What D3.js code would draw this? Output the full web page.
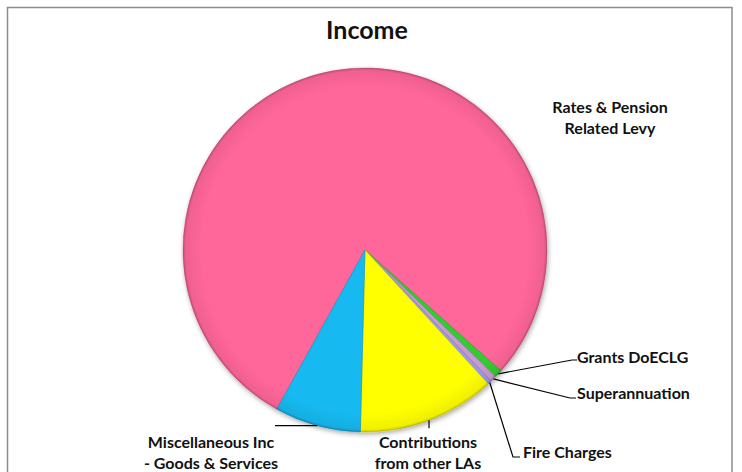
<!DOCTYPE html>
<html>
<head>
<meta charset="utf-8">
<script src="https://cdn.jsdelivr.net/npm/d3@7"></script>
<style>
  html, body { margin: 0; padding: 0; background: #fff; }
  svg { display: block; }
  text { font-family: Lato, "Open Sans", sans-serif; font-weight: bold; fill: #111; }
</style>
</head>
<body>
<svg id="chart" width="742" height="472"></svg>
<script>
const categories = ["Rates & Pension Related Levy", "Grants DoECLG", "Superannuation", "Fire Charges", "Contributions from other LAs", "Miscellaneous Inc - Goods & Services"];
const values = [78.5, 0.7, 0.55, 0.35, 12.25, 7.65];
const colors = ["#FF6699", "#33CC33", "#CC99CC", "#9999EE", "#FFFF00", "#17B9F0"];
const labelLines = [["Rates & Pension", "Related Levy"], ["Grants DoECLG"], ["Superannuation"], ["Fire Charges"], ["Contributions", "from other LAs"], ["Miscellaneous Inc", "- Goods & Services"]];
const title = "Income";

const svg = d3.select("#chart");

// border
svg.append("rect").attr("x", 7.5).attr("y", 7.5).attr("width", 724.5).attr("height", 480)
  .attr("fill", "#fff").attr("stroke", "#8c8c8c").attr("stroke-width", 1.5);

svg.append("text").attr("x", 367).attr("y", 39).attr("text-anchor", "middle")
  .style("font-size", "25px").text(title);

const cx = 365, cy = 250, R = 182;
const defs = svg.append("defs");
const f = defs.append("filter").attr("id", "shadow").attr("x", "-20%").attr("y", "-20%").attr("width", "140%").attr("height", "140%");
f.append("feGaussianBlur").attr("in", "SourceAlpha").attr("stdDeviation", 2.5).attr("result", "b");
f.append("feOffset").attr("in", "b").attr("dx", 1).attr("dy", 2).attr("result", "o");
f.append("feComponentTransfer").attr("in", "o").attr("result", "o2")
  .append("feFuncA").attr("type", "linear").attr("slope", 0.35);
const fm = f.append("feMerge");
fm.append("feMergeNode").attr("in", "o2");
fm.append("feMergeNode").attr("in", "SourceGraphic");

// edge shading gradient
const rg = defs.append("radialGradient").attr("id", "edge").attr("gradientUnits", "userSpaceOnUse")
  .attr("cx", 0).attr("cy", 0).attr("r", R);
rg.append("stop").attr("offset", "0.9").attr("stop-color", "#000").attr("stop-opacity", 0);
rg.append("stop").attr("offset", "0.985").attr("stop-color", "#000").attr("stop-opacity", 0.06);
rg.append("stop").attr("offset", "1").attr("stop-color", "#000").attr("stop-opacity", 0.22);

const deg = Math.PI / 180;
const pie = d3.pie().sort(null).value(d => d).startAngle(209 * deg).endAngle(569 * deg);
const arcs = pie(values);
const arc = d3.arc().innerRadius(0).outerRadius(R);

const g = svg.append("g").attr("transform", `translate(${cx},${cy})`);
const pg = g.append("g").attr("filter", "url(#shadow)");
pg.selectAll("path.slice").data(arcs).enter().append("path").attr("class", "slice")
  .attr("d", arc).attr("fill", (d, i) => colors[i])
  .attr("stroke", (d, i) => d3.color(colors[i]).darker(0.6)).attr("stroke-width", 0.6);
g.append("circle").attr("r", R).attr("fill", "url(#edge)").attr("pointer-events", "none");

function edgePoint(d) {
  const a = (d.startAngle + d.endAngle) / 2;
  return [cx + R * Math.sin(a), cy - R * Math.cos(a)];
}

// label placements (layout only)
const labelPos = [
  { x: 610, y: 113, anchor: "middle", lead: null },
  { x: 577, y: 363, anchor: "start", lead: [[572, 360], [577, 360]] },
  { x: 577, y: 399, anchor: "start", lead: [[570, 398], [576, 398]] },
  { x: 523, y: 458, anchor: "start", lead: [[513, 457], [520, 457]] },
  { x: 428, y: 448, anchor: "middle", lead: "down" },
  { x: 211, y: 448, anchor: "middle", lead: "left" }
];

const line = d3.line();
arcs.forEach((d, i) => {
  const p = labelPos[i];
  const e = edgePoint(d);
  let pts = null;
  if (Array.isArray(p.lead)) pts = [e, ...p.lead];
  else if (p.lead === "down") pts = [e, [e[0], e[1] + 8]];
  else if (p.lead === "left") pts = [e, [275, e[1]]];
  if (pts) svg.append("path").attr("d", line(pts)).attr("fill", "none").attr("stroke", "#000").attr("stroke-width", 1.2);
  const t = svg.append("text").attr("x", p.x).attr("y", p.y).attr("text-anchor", p.anchor).style("font-size", "16px");
  labelLines[i].forEach((s, k) => t.append("tspan").attr("x", p.x).attr("dy", k === 0 ? 0 : 21).text(s));
});
</script>
</body>
</html>
